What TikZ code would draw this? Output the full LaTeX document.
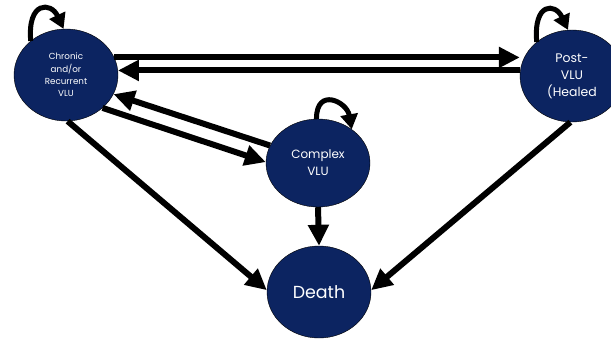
\documentclass[tikz,border=0pt]{standalone}
\usepackage{fontspec}
\setmainfont{Poppins}
\usetikzlibrary{arrows.meta,shapes.geometric}
\definecolor{vlublue}{HTML}{0C2461}
\begin{document}
\begin{tikzpicture}[x=1bp,y=1bp,
    state/.style={ellipse,fill=vlublue,draw=black,thin,text=white,
      minimum width=104bp,minimum height=92bp,inner sep=0pt,align=center},
    trans/.style={line width=6bp,-{Triangle[length=21bp,width=20bp]}},
    selfloop/.style={line width=5bp,-{Triangle[length=15bp,width=17bp]}}]
      \useasboundingbox (0,0) rectangle (611,341);
      \draw
        (66,266) node[state,font=\fontsize{8.8}{12.5}\selectfont] (chronic){Chronic\\and/or\\Recurrent\\VLU}
        (572,265) node[state,font=\fontsize{12.5}{17}\selectfont] (post){Post-\\VLU\\(Healed}
        (318,178) node[state,minimum height=88bp,font=\fontsize{12}{17}\selectfont] (complex){Complex\\VLU}
        (319,49) node[state,font=\fontsize{17.5}{20}\selectfont] (death){Death};
      \begin{scope}[trans]
        \draw (chronic.20) -- (chronic.20 -| post.west);
        \draw (post.west |- chronic.5) -- (chronic.5);
        \draw (complex.160) -- (chronic.-22);
        \draw (chronic.-42) -- (complex.179);
        \draw (chronic.-88) -- (death.178);
        \draw (post.-92) -- (death.2);
        \draw (complex.south) -- (death.north);
      \end{scope}
      \begin{scope}[selfloop]
        \draw (chronic.136) .. controls +(95:40) and +(115:30) .. (chronic.93);
        \draw (post.136) .. controls +(95:40) and +(115:30) .. (post.95);
        \draw (complex.92) .. controls +(90:32) and +(100:28) .. (complex.45);
      \end{scope}
    \end{tikzpicture}
\end{document}
